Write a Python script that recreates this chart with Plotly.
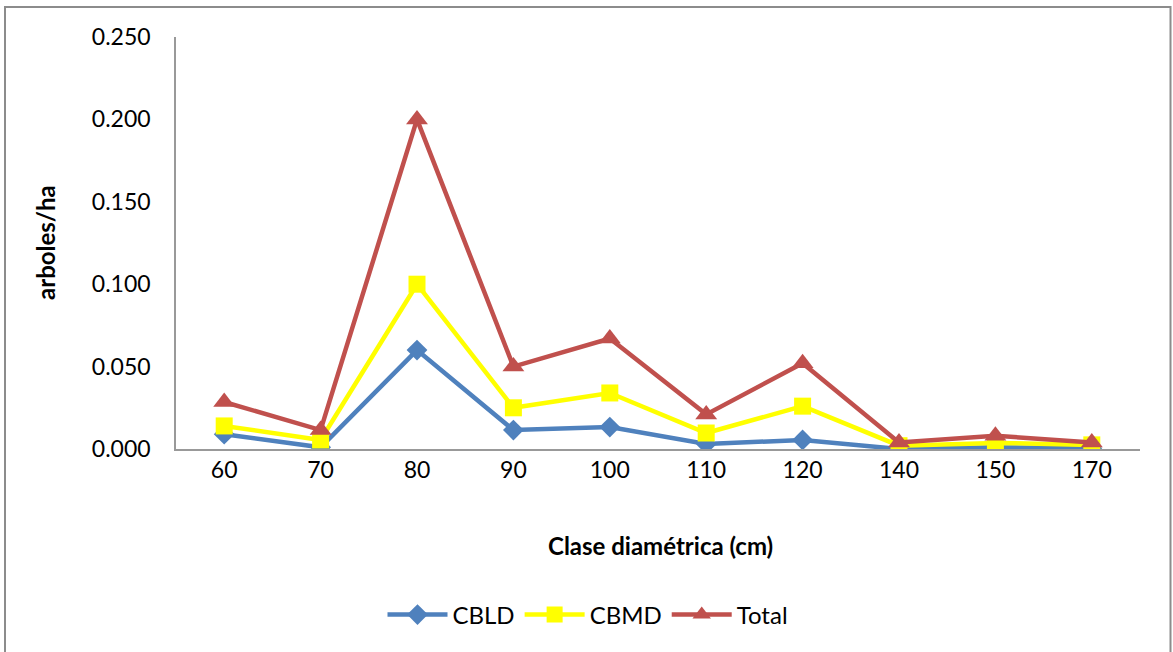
import plotly.graph_objects as go

categories = ["60", "70", "80", "90", "100", "110", "120", "140", "150", "170"]
cbld = [0.009, 0.001, 0.060, 0.0115, 0.0133, 0.003, 0.0055, 0.0, 0.001, 0.0005]
cbmd = [0.014, 0.0055, 0.100, 0.025, 0.034, 0.0097, 0.026, 0.002, 0.0037, 0.0025]
total = [0.0285, 0.0115, 0.200, 0.050, 0.067, 0.021, 0.052, 0.004, 0.008, 0.004]
y_ticks = [0, 0.05, 0.10, 0.15, 0.20, 0.25]
y_labels = ["0.000", "0.050", "0.100", "0.150", "0.200", "0.250"]

FONT = "Lato, 'Open Sans', sans-serif"

fig = go.Figure()
fig.add_trace(go.Scatter(x=categories, y=cbld, name="CBLD", mode="lines+markers",
                         line=dict(color="#4F81BD", width=4.5),
                         marker=dict(symbol="diamond", size=16, color="#4F81BD")))
fig.add_trace(go.Scatter(x=categories, y=cbmd, name="CBMD", mode="lines+markers",
                         line=dict(color="#FFFF00", width=4.5),
                         marker=dict(symbol="square", size=17, color="#FFFF00")))
fig.add_trace(go.Scatter(x=categories, y=total, name="Total", mode="lines+markers",
                         line=dict(color="#C0504D", width=4.5),
                         marker=dict(symbol="triangle-up", size=19, color="#C0504D")))

W, H = 1173, 652
L, R, T, B = 176, 33, 37, 203
pw, ph = W - L - R, H - T - B

def px_x(p):
    return (p - L) / pw

def px_y(p):
    return (H - B - p) / ph

fig.update_layout(
    width=W, height=H,
    margin=dict(l=L, r=R, t=T, b=B),
    paper_bgcolor="white", plot_bgcolor="white",
    font=dict(family=FONT, size=23, color="#000000"),
    showlegend=True,
    legend=dict(orientation="h", x=px_x(588), xanchor="center", y=px_y(615), yanchor="middle",
                font=dict(size=24), itemwidth=60, tracegroupgap=0),
    xaxis=dict(type="category", range=[-0.5, 9.5], showline=True, linecolor="#999999", linewidth=1.5,
               showgrid=False, zeroline=False, ticks="", ticklabelstandoff=0,
               tickfont=dict(size=23)),
    yaxis=dict(range=[0, 0.25], showline=True, linecolor="#999999", linewidth=1.5,
               showgrid=False, zeroline=False, ticks="", tickvals=y_ticks, ticktext=y_labels,
               ticklabelstandoff=19, tickfont=dict(size=23)),
    annotations=[
        dict(text="<b>arboles/ha</b>", x=px_x(45), y=px_y(243), xref="paper", yref="paper",
             textangle=-90, showarrow=False, font=dict(size=24), xanchor="center", yanchor="middle"),
        dict(text="<b>Clase diamétrica (cm)</b>", x=px_x(660), y=px_y(545), xref="paper", yref="paper",
             showarrow=False, font=dict(size=24), xanchor="center", yanchor="middle"),
    ],
    shapes=[
        dict(type="rect", xref="paper", yref="paper",
             x0=px_x(5), x1=px_x(1170.5), y0=px_y(680), y1=px_y(7),
             line=dict(color="#8c8c8c", width=2), layer="below"),
    ],
)

fig.write_html("out.html")
